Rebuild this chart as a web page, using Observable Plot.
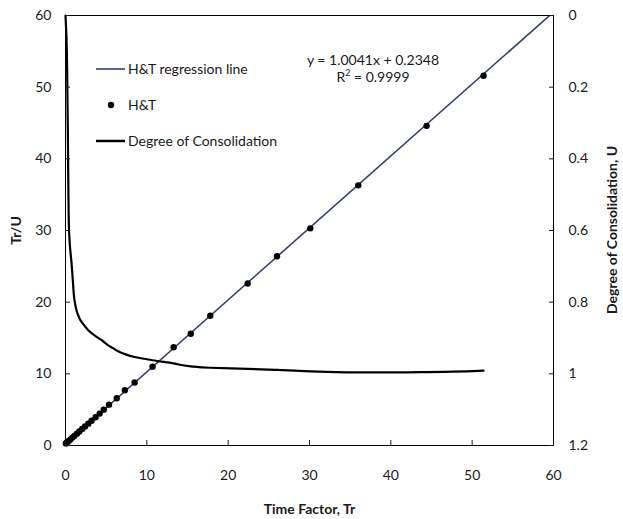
<!DOCTYPE html>
<html><head><meta charset="utf-8">
<script src="https://cdn.jsdelivr.net/npm/d3@7"></script>
<script src="https://cdn.jsdelivr.net/npm/@observablehq/plot@0.6"></script>
<style>
body{margin:0;background:#fff;}
#wrap{position:relative;width:623px;height:519px;font-family:Lato,"Open Sans",sans-serif;color:#1a1a1a;}
#wrap svg g[aria-label$="axis label"] text{font-weight:bold;}
.ov{position:absolute;font-size:14px;white-space:nowrap;line-height:16px;}
</style></head>
<body><div id="wrap"></div>
<script>
// H&T data points: Time Factor Tr and Tr/U
const trDots  = [51.4, 44.4, 36.0, 30.1, 26.0, 22.4, 17.8, 15.4, 13.3, 10.7, 8.5, 7.3, 6.3, 5.35, 4.7, 4.2, 3.7, 3.2, 2.8, 2.4, 2.05, 1.7, 1.4, 1.1, 0.85, 0.6, 0.4, 0.25, 0.12, 0.05];
const truDots = [51.6, 44.6, 36.3, 30.3, 26.4, 22.6, 18.1, 15.6, 13.7, 11.0, 8.8, 7.7, 6.6, 5.7, 5.0, 4.45, 3.95, 3.45, 3.05, 2.65, 2.3, 1.95, 1.65, 1.35, 1.1, 0.85, 0.65, 0.5, 0.37, 0.28];
// Degree of consolidation curve: Tr and U
const trCurve = [0, 0.1, 0.2, 0.25, 0.3, 0.33, 0.37, 0.42, 0.55, 0.74, 0.92, 1.11, 1.45, 1.85, 2.35, 2.83, 3.7, 4.51, 5.35, 5.9, 6.3, 7.3, 8.5, 10.7, 13.3, 15.4, 17.8, 22.4, 26.0, 30.1, 36.0, 40.0, 44.4, 51.4];
const uCurve  = [0, 0.05, 0.15, 0.25, 0.35, 0.43, 0.52, 0.59, 0.645, 0.69, 0.745, 0.795, 0.83, 0.851, 0.866, 0.879, 0.895, 0.907, 0.922, 0.929, 0.935, 0.945, 0.953, 0.962, 0.971, 0.979, 0.983, 0.986, 0.989, 0.993, 0.996, 0.996, 0.995, 0.991];
// regression
const slope = 1.0041, intercept = 0.2348, r2 = "0.9999";
const regX = [0, 60];
// ticks
const xTicks = [0, 10, 20, 30, 40, 50, 60];
const yTicks = [0, 10, 20, 30, 40, 50, 60];
const uTicks = [0, 0.2, 0.4, 0.6, 0.8, 1, 1.2];
const rightTitle = "Degree of Consolidation, U";

const uToY = u => 60 - u * 50;   // right-axis (reversed 0..1.2) mapped onto left scale 60..0
const yToU = v => +((60 - v) / 50).toFixed(2);

const dots = trDots.map((t, i) => ({t, v: truDots[i]}));
const curve = trCurve.map((t, i) => ({t, v: uToY(uCurve[i])}));
const reg = regX.map(t => ({t, v: slope * t + intercept}));

const chart = Plot.plot({
  width: 623, height: 519,
  marginTop: 15, marginBottom: 74, marginLeft: 65, marginRight: 70,
  style: {fontFamily: "Lato, 'Open Sans', sans-serif", fontSize: "14px", color: "#1a1a1a", background: "#fff"},
  x: {domain: [0, 60]},
  y: {domain: [0, 60]},
  marks: [
    Plot.line(reg, {x: "t", y: "v", stroke: "#34436a", strokeWidth: 1.6, clip: true}),
    Plot.dot(dots, {x: "t", y: "v", r: 3.2, fill: "#000", stroke: "none"}),
    Plot.line(curve, {x: "t", y: "v", stroke: "#000", strokeWidth: 2.2, curve: "monotone-y"}),
    Plot.frame({stroke: "#000", strokeWidth: 1}),
    // inward ticks
    Plot.axisX(xTicks, {anchor: "bottom", tickSize: 5, dy: -5, tickFormat: () => "", label: null}),
    Plot.axisY(yTicks, {anchor: "left", tickSize: 5, dx: 5, tickFormat: () => "", label: null}),
    Plot.axisY(uTicks.map(uToY), {anchor: "right", tickSize: 5, dx: -5, tickFormat: () => "", label: null}),
    // labels
    Plot.axisX(xTicks, {anchor: "bottom", tickSize: 0, tickPadding: 25, label: "Time Factor, Tr", labelArrow: false, labelAnchor: "center", labelOffset: 68}),
    Plot.axisY(yTicks, {anchor: "left", tickSize: 0, tickPadding: 14, label: "Tr/U", labelArrow: false, labelAnchor: "center", labelOffset: 54}),
    Plot.axisY(uTicks.map(uToY), {anchor: "right", tickSize: 0, tickPadding: 15, tickFormat: v => String(yToU(v)), label: null})
  ]
});
const wrap = document.getElementById("wrap");
wrap.appendChild(chart);

// right axis title
const rt = document.createElement("div");
rt.className = "ov";
rt.style.left = "612px"; rt.style.top = "230px";
rt.style.fontWeight = "bold";
rt.style.transform = "translate(-50%,-50%) rotate(-90deg)";
rt.textContent = rightTitle;
wrap.appendChild(rt);

// legend (inside plot area, top-left)
const legendItems = [
  {label: "H&T regression line", type: "line", color: "#34436a", w: 1.6},
  {label: "H&T", type: "dot", color: "#000"},
  {label: "Degree of Consolidation", type: "line", color: "#000", w: 2.5}
];
legendItems.forEach((it, i) => {
  const cy = 69 + i * 36;
  const d = document.createElement("div");
  d.className = "ov";
  d.style.left = "96px"; d.style.top = (cy - 8) + "px";
  d.style.display = "flex"; d.style.alignItems = "center";
  const sw = it.type === "line"
    ? `<svg width="29" height="16"><line x1="0" x2="29" y1="8" y2="8" stroke="${it.color}" stroke-width="${it.w}"/></svg>`
    : `<svg width="29" height="16"><circle cx="15" cy="8" r="3.2" fill="${it.color}"/></svg>`;
  d.innerHTML = sw + `<span style="margin-left:3px">${it.label}</span>`;
  wrap.appendChild(d);
});

// regression equation (two lines)
const eqLines = [`y = ${slope}x + ${intercept}`, `R<sup style="font-size:9px;vertical-align:6px;line-height:0">2</sup> = ${r2}`];
eqLines.forEach((txt, i) => {
  const e = document.createElement("div");
  e.className = "ov";
  e.style.left = "273px"; e.style.top = (52 + i * 17) + "px"; e.style.width = "200px"; e.style.textAlign = "center";
  e.innerHTML = txt;
  wrap.appendChild(e);
});
</script>
</body></html>
